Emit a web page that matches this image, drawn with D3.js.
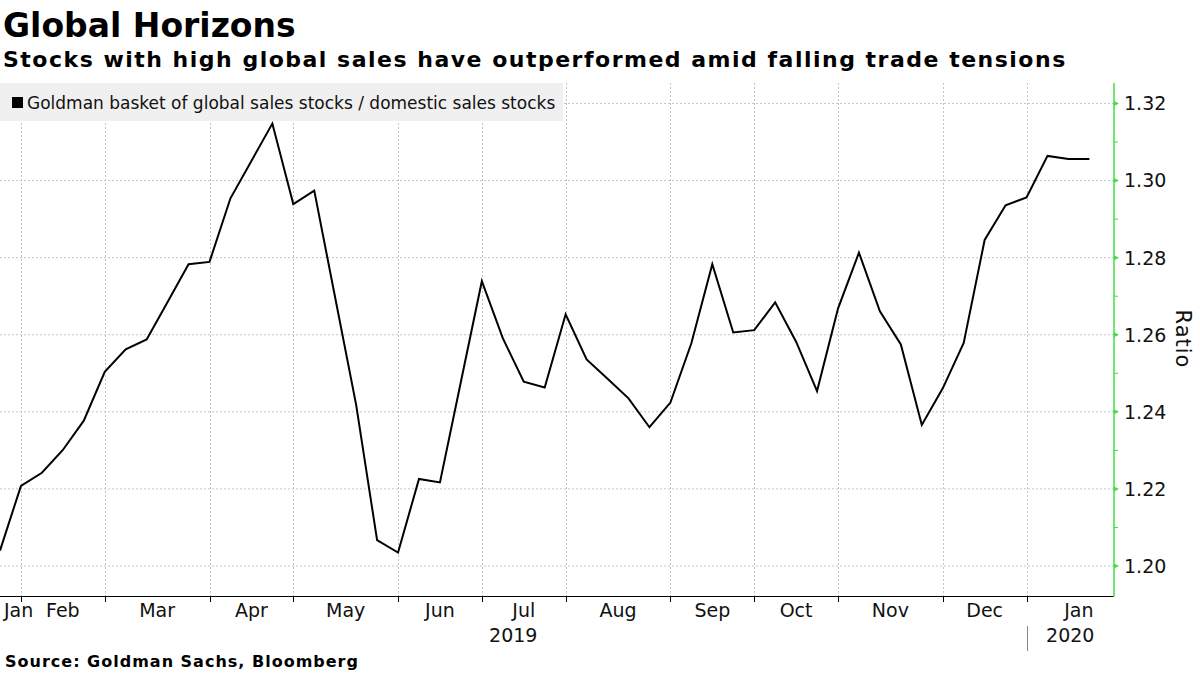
<!DOCTYPE html>
<html>
<head>
<meta charset="utf-8">
<script src="https://cdnjs.cloudflare.com/ajax/libs/d3/7.8.5/d3.min.js"></script>
<style>
  html, body { margin: 0; padding: 0; background: #fff; }
  svg { display: block; }
</style>
</head>
<body>
<svg id="chart" width="1200" height="675"></svg>
<script>
// ---------------- DATA ----------------
const dates = [
  "2019-01-25","2019-02-01","2019-02-08","2019-02-15","2019-02-22","2019-03-01","2019-03-08","2019-03-15",
  "2019-03-22","2019-03-29","2019-04-05","2019-04-12","2019-04-19","2019-04-26","2019-05-03","2019-05-10",
  "2019-05-17","2019-05-24","2019-05-31","2019-06-07","2019-06-14","2019-06-21","2019-06-28","2019-07-05",
  "2019-07-12","2019-07-19","2019-07-26","2019-08-02","2019-08-09","2019-08-16","2019-08-23","2019-08-30",
  "2019-09-06","2019-09-13","2019-09-20","2019-09-27","2019-10-04","2019-10-11","2019-10-18","2019-10-25",
  "2019-11-01","2019-11-08","2019-11-15","2019-11-22","2019-11-29","2019-12-06","2019-12-13","2019-12-20",
  "2019-12-27","2020-01-03","2020-01-10","2020-01-17","2020-01-24"
];
const ratio = [
  1.2040, 1.2208, 1.2242, 1.2301, 1.2377, 1.2504, 1.2562, 1.2588,
  1.2685, 1.2783, 1.2789, 1.2954, 1.3051, 1.3148, 1.2939, 1.2974,
  1.2696, 1.2418, 1.2067, 1.2035, 1.2226, 1.2217, 1.2478, 1.2739,
  1.2591, 1.2478, 1.2463, 1.2653, 1.2536, 1.2486, 1.2435, 1.2360,
  1.2424, 1.2578, 1.2783, 1.2606, 1.2612, 1.2684, 1.2582, 1.2454,
  1.2668, 1.2813, 1.2661, 1.2575, 1.2366, 1.2461, 1.2579, 1.2846,
  1.2936, 1.2956, 1.3064, 1.3056, 1.3056
];
const yTicks = [1.20, 1.22, 1.24, 1.26, 1.28, 1.30, 1.32];
const yMinorTicks = [1.21, 1.23, 1.25, 1.27, 1.29, 1.31];
const monthNames = ["Jan","Feb","Mar","Apr","May","Jun","Jul","Aug","Sep","Oct","Nov","Dec"];
const titleText = "Global Horizons";
const subtitleText = "Stocks with high global sales have outperformed amid falling trade tensions";
const legendText = "Goldman basket of global sales stocks / domestic sales stocks";
const yAxisTitle = "Ratio";
const sourceText = "Source: Goldman Sachs, Bloomberg";

// ---------------- LAYOUT ----------------
const svg = d3.select("#chart");
const plot = { left: 0, right: 1114, top: 83, bottom: 596 };
const green = "#44dd44";
const gridColor = "#c4c4c4";
const axisFont = "'DejaVu Sans', sans-serif";

const parse = d3.utcParse("%Y-%m-%d");
const D = dates.map(parse);
const DAY = 864e5;
const idxOf = d => (d - D[0]) / (7 * DAY);   // fractional week index

const x = d3.scaleLinear().domain([0, dates.length - 1]).range([0, 1089.4]);
const y = d3.scaleLinear().domain([1.20, 1.32]).range([566, 103.5]);

// month ticks: first data point of each month
const monthStarts = [];
D.forEach((d, i) => {
  if (i === 0 || d.getUTCMonth() !== D[i - 1].getUTCMonth()) monthStarts.push({ i, d });
});
const tickIdx = monthStarts.filter(m => m.i > 0);

// ---------------- GRID ----------------
const grid = svg.append("g");
grid.selectAll("line.h").data(yTicks).enter().append("line")
  .attr("x1", plot.left).attr("x2", plot.right)
  .attr("y1", d => y(d)).attr("y2", d => y(d))
  .attr("stroke", gridColor).attr("stroke-width", 1).attr("stroke-dasharray", "2,2");
grid.selectAll("line.v").data(tickIdx).enter().append("line")
  .attr("x1", d => Math.round(x(d.i)) + 0.5).attr("x2", d => Math.round(x(d.i)) + 0.5)
  .attr("y1", plot.top).attr("y2", plot.bottom)
  .attr("stroke", gridColor).attr("stroke-width", 1).attr("stroke-dasharray", "2,2");

// ---------------- LEGEND ----------------
const leg = svg.append("g");
leg.append("rect").attr("x", 0).attr("y", 83).attr("width", 563).attr("height", 38)
  .attr("fill", "#efefef").attr("fill-opacity", 0.92);
leg.append("rect").attr("x", 12).attr("y", 97).attr("width", 11).attr("height", 11).attr("fill", "#000");
leg.append("text").attr("x", 27).attr("y", 108.5)
  .attr("font-family", axisFont).attr("font-size", 17).attr("fill", "#111")
  .text(legendText);

// ---------------- LINE ----------------
const line = d3.line().x((d, i) => x(i)).y(d => y(d));
svg.append("path").datum(ratio)
  .attr("d", line).attr("fill", "none").attr("stroke", "#000")
  .attr("stroke-width", 2).attr("stroke-linejoin", "miter");

// ---------------- X AXIS ----------------
const xa = svg.append("g");
xa.append("line").attr("x1", plot.left).attr("x2", plot.right)
  .attr("y1", plot.bottom + 0.5).attr("y2", plot.bottom + 0.5)
  .attr("stroke", "#000").attr("stroke-width", 1);
xa.selectAll("line.t").data(tickIdx).enter().append("line")
  .attr("x1", d => Math.round(x(d.i)) + 0.5).attr("x2", d => Math.round(x(d.i)) + 0.5)
  .attr("y1", plot.bottom).attr("y2", plot.bottom + 6)
  .attr("stroke", "#000").attr("stroke-width", 1);

const monthLabels = monthStarts.map(m => {
  const d = m.d;
  const mStart = Date.UTC(d.getUTCFullYear(), d.getUTCMonth(), 1);
  const nStart = Date.UTC(d.getUTCFullYear(), d.getUTCMonth() + 1, 1);
  const a = Math.ceil(idxOf(mStart) - 1e-9);
  const b = Math.ceil(idxOf(nStart) - 1e-9);
  return { name: monthNames[d.getUTCMonth()], cx: x((a + b) / 2) };
});
xa.selectAll("text.m").data(monthLabels).enter().append("text")
  .attr("font-family", axisFont).attr("font-size", 19).attr("fill", "#111")
  .attr("y", 617)
  .text(d => d.name)
  .each(function (d) {
    const w = this.getComputedTextLength();
    let left = d.cx - w / 2;
    if (left < 4) left = 4;
    d3.select(this).attr("x", left);
  });

const years = Array.from(new Set(D.map(d => d.getUTCFullYear())));
const yearLabels = years.map(yr => {
  const first = D.findIndex(d => d.getUTCFullYear() === yr);
  const nextFirst = D.findIndex(d => d.getUTCFullYear() === yr + 1);
  const x0 = Math.max(plot.left, x(first));
  const x1 = nextFirst >= 0 ? x(nextFirst) : plot.right;
  return { yr, cx: (x0 + x1) / 2, boundary: first > 0 ? x(first) : null };
});
xa.selectAll("text.y").data(yearLabels).enter().append("text")
  .attr("font-family", axisFont).attr("font-size", 19).attr("fill", "#111")
  .attr("x", d => d.cx).attr("y", 642).attr("text-anchor", "middle")
  .text(d => d.yr);
xa.selectAll("line.yb").data(yearLabels.filter(d => d.boundary !== null)).enter().append("line")
  .attr("x1", d => Math.round(d.boundary) + 0.5).attr("x2", d => Math.round(d.boundary) + 0.5)
  .attr("y1", 626).attr("y2", 651)
  .attr("stroke", "#888").attr("stroke-width", 1);

// ---------------- Y AXIS (right) ----------------
const ya = svg.append("g");
ya.append("line").attr("x1", plot.right).attr("x2", plot.right)
  .attr("y1", plot.top).attr("y2", plot.bottom + 1)
  .attr("stroke", green).attr("stroke-width", 1.5);
ya.selectAll("path.tri").data(yTicks).enter().append("path")
  .attr("d", d => `M${plot.right},${y(d) - 2.5}L${plot.right + 5},${y(d)}L${plot.right},${y(d) + 2.5}Z`)
  .attr("fill", green);
ya.selectAll("line.mn").data(yMinorTicks).enter().append("line")
  .attr("x1", plot.right).attr("x2", plot.right + 4)
  .attr("y1", d => y(d)).attr("y2", d => y(d))
  .attr("stroke", green).attr("stroke-width", 1);
ya.selectAll("text.yl").data(yTicks).enter().append("text")
  .attr("font-family", axisFont).attr("font-size", 19).attr("fill", "#111")
  .attr("x", 1124).attr("y", d => y(d)).attr("dy", "0.36em")
  .text(d => d3.format(".2f")(d));
ya.append("text")
  .attr("font-family", axisFont).attr("font-size", 21).attr("fill", "#111")
  .attr("letter-spacing", 1)
  .attr("transform", "translate(1176,339) rotate(90)")
  .attr("text-anchor", "middle")
  .text(yAxisTitle);

// ---------------- TITLES ----------------
svg.append("text").attr("x", 3).attr("y", 37)
  .attr("font-family", "'DejaVu Sans', sans-serif").attr("font-weight", "bold")
  .attr("font-size", 33).attr("fill", "#000").text(titleText);
svg.append("text").attr("x", 3).attr("y", 67)
  .attr("font-family", "'DejaVu Sans', sans-serif").attr("font-weight", "bold")
  .attr("font-size", 22).attr("letter-spacing", 1.5).attr("fill", "#000").text(subtitleText);
svg.append("text").attr("x", 5).attr("y", 667)
  .attr("font-family", "'DejaVu Sans', sans-serif").attr("font-weight", "bold")
  .attr("font-size", 16).attr("letter-spacing", 1).attr("fill", "#000").text(sourceText);
</script>
</body>
</html>
